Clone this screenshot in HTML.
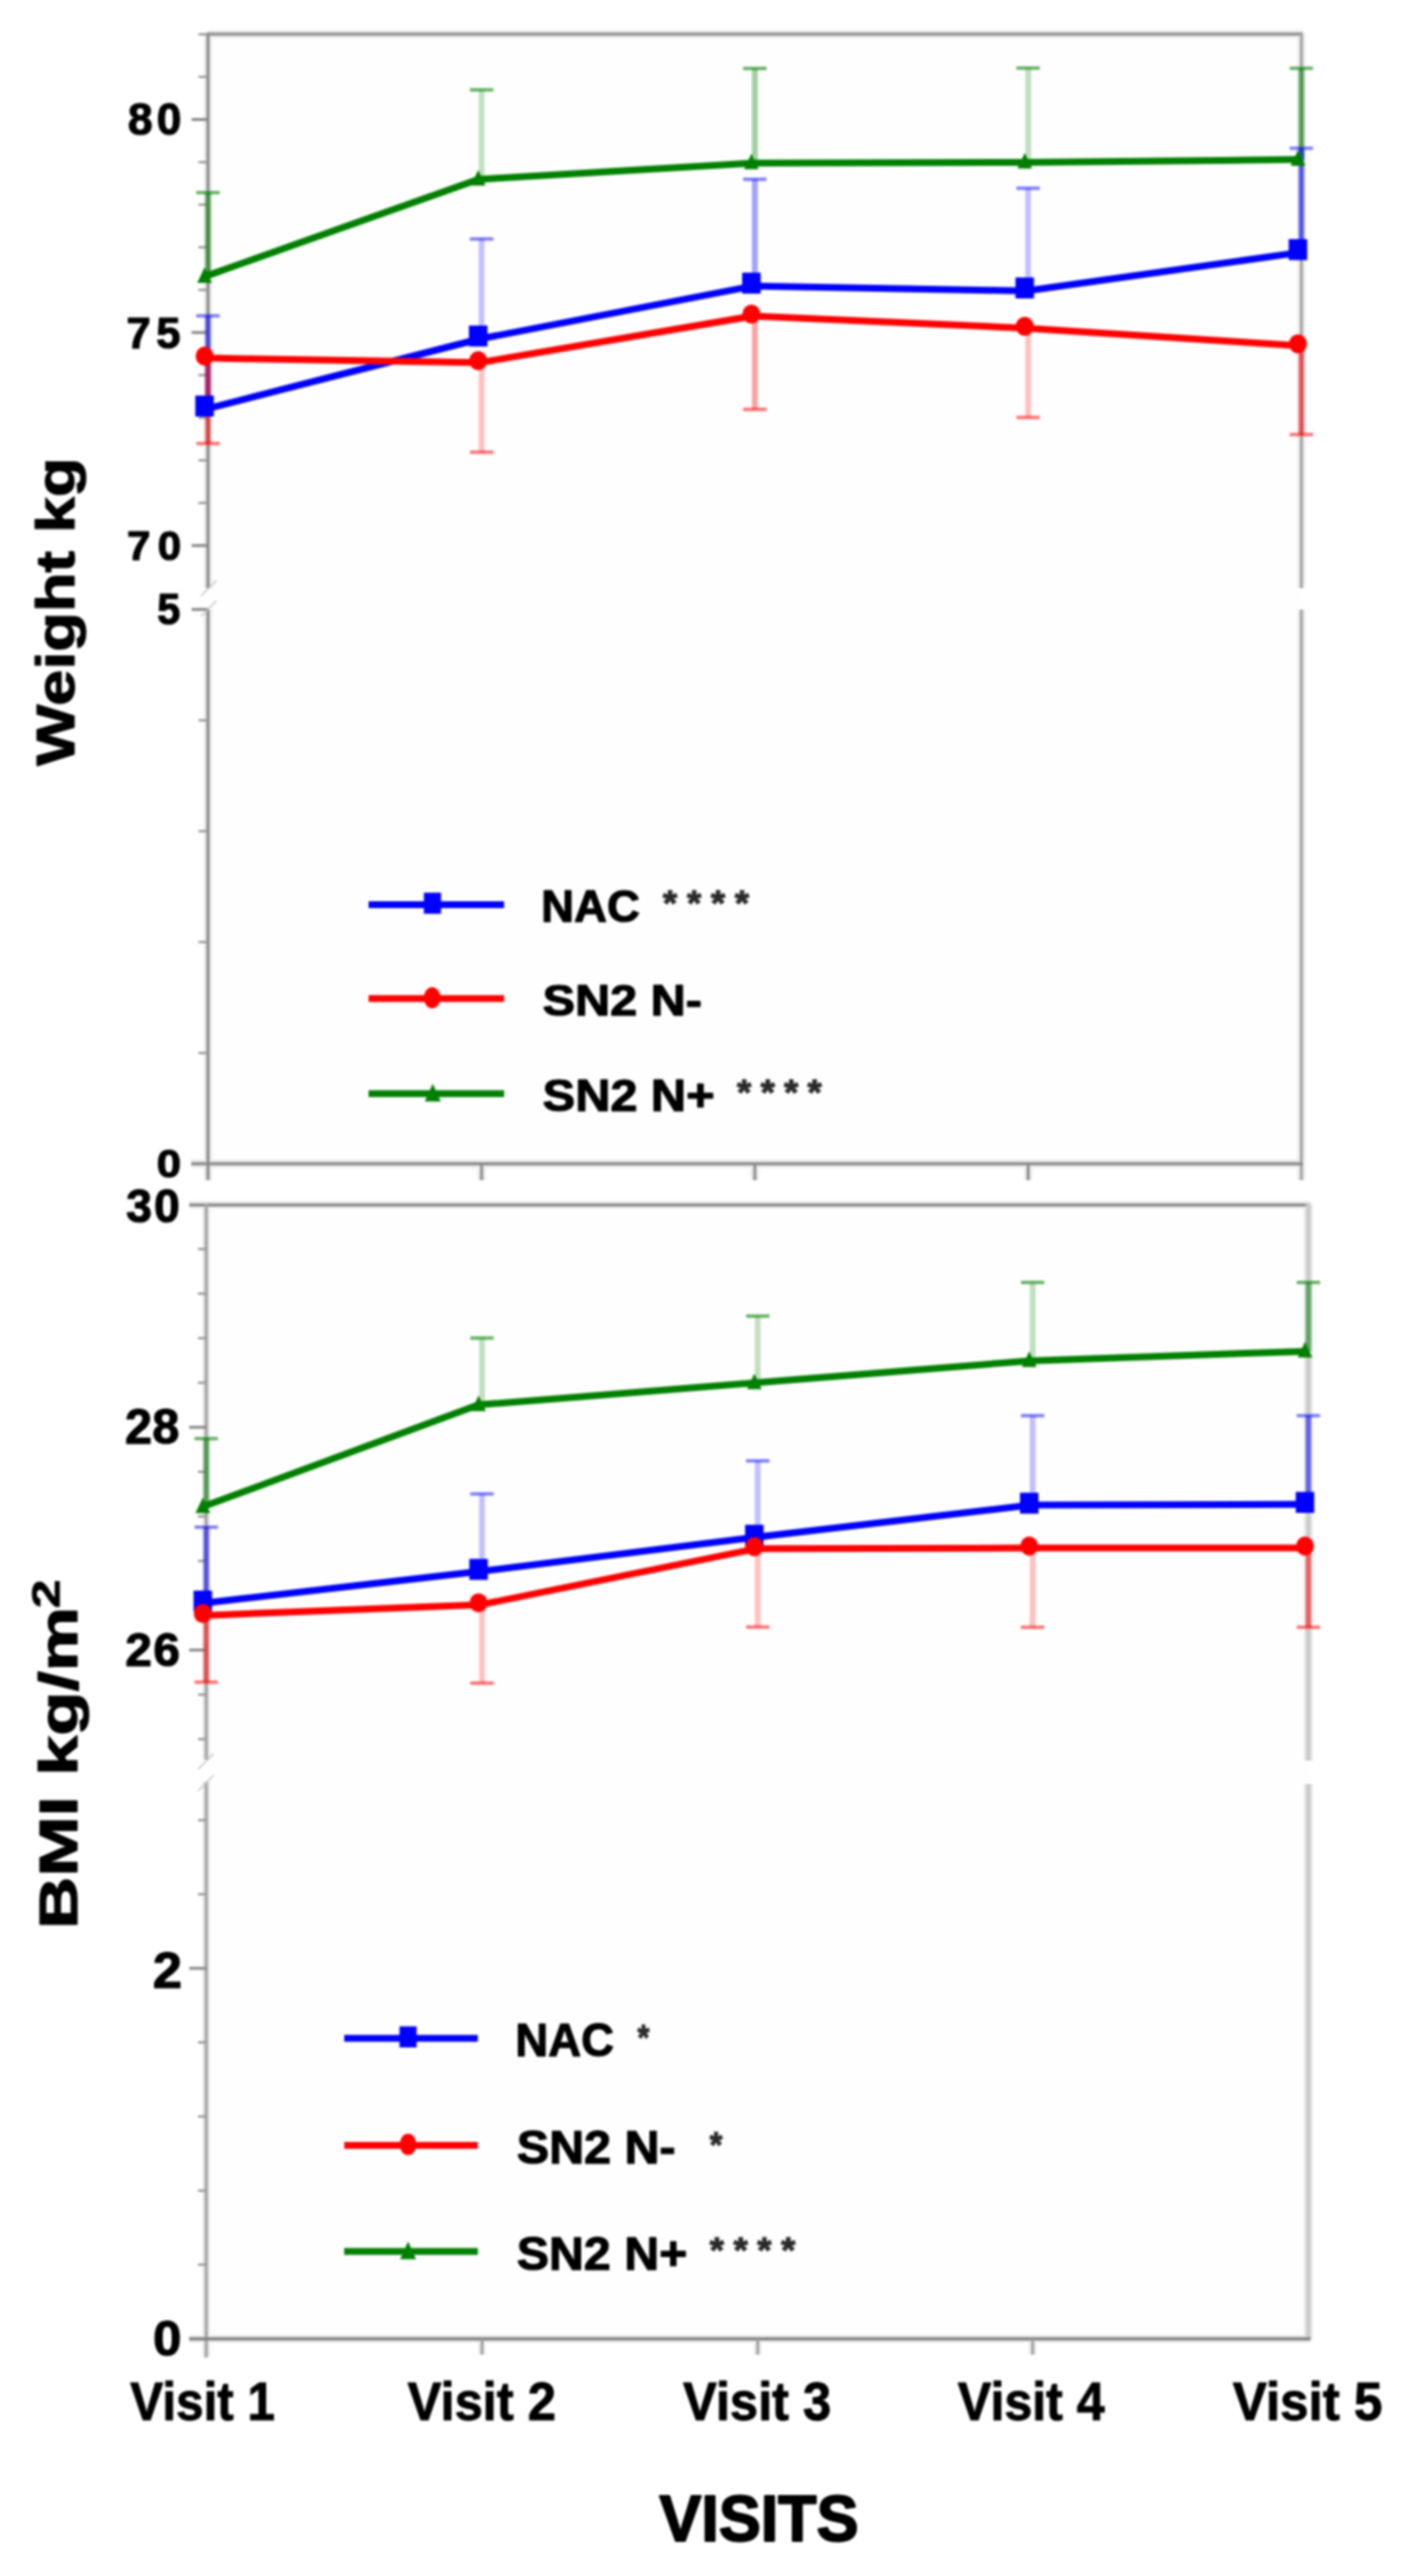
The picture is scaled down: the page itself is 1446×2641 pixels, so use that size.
<!DOCTYPE html>
<html><head><meta charset="utf-8"><title>Weight and BMI by visit</title>
<style>
html,body{margin:0;padding:0;background:#fff;}
body{width:1446px;height:2641px;overflow:hidden;}
svg{display:block;filter:blur(1px);}
text{font-family:"Liberation Sans",Arial,sans-serif;font-weight:bold;}
</style></head><body>
<svg width="1446" height="2641" viewBox="0 0 1446 2641">
<rect width="1446" height="2641" fill="#fff"/>
<rect x="213.3" y="35" width="1121.3" height="1158.2" fill="#fefefe"/>
<line x1="213.30" y1="35.00" x2="1336.10" y2="35.00" stroke="#eeeeee" stroke-width="9.2"/>
<line x1="213.30" y1="33.50" x2="213.30" y2="603.00" stroke="#eeeeee" stroke-width="9.2"/>
<line x1="213.30" y1="625.00" x2="213.30" y2="1210.00" stroke="#eeeeee" stroke-width="9.2"/>
<line x1="1334.60" y1="33.50" x2="1334.60" y2="603.00" stroke="#eeeeee" stroke-width="9"/>
<line x1="1334.60" y1="625.00" x2="1334.60" y2="1210.00" stroke="#eeeeee" stroke-width="9"/>
<line x1="196.00" y1="1193.20" x2="1336.10" y2="1193.20" stroke="#eeeeee" stroke-width="9.2"/>
<line x1="493.90" y1="1193.20" x2="493.90" y2="1210.00" stroke="#eeeeee" stroke-width="9"/>
<line x1="774.10" y1="1193.20" x2="774.10" y2="1210.00" stroke="#eeeeee" stroke-width="9"/>
<line x1="1054.40" y1="1193.20" x2="1054.40" y2="1210.00" stroke="#eeeeee" stroke-width="9"/>
<line x1="213.30" y1="35.00" x2="1336.10" y2="35.00" stroke="#8a8a8a" stroke-width="3.2"/>
<line x1="213.30" y1="33.50" x2="213.30" y2="603.00" stroke="#8a8a8a" stroke-width="3.2"/>
<line x1="213.30" y1="625.00" x2="213.30" y2="1210.00" stroke="#8a8a8a" stroke-width="3.2"/>
<line x1="1334.60" y1="33.50" x2="1334.60" y2="603.00" stroke="#a2a2a2" stroke-width="3"/>
<line x1="1334.60" y1="625.00" x2="1334.60" y2="1210.00" stroke="#a2a2a2" stroke-width="3"/>
<line x1="196.00" y1="1193.20" x2="1336.10" y2="1193.20" stroke="#8a8a8a" stroke-width="3.2"/>
<line x1="493.90" y1="1193.20" x2="493.90" y2="1210.00" stroke="#8a8a8a" stroke-width="3"/>
<line x1="774.10" y1="1193.20" x2="774.10" y2="1210.00" stroke="#8a8a8a" stroke-width="3"/>
<line x1="1054.40" y1="1193.20" x2="1054.40" y2="1210.00" stroke="#8a8a8a" stroke-width="3"/>
<line x1="196.50" y1="559.30" x2="213.30" y2="559.30" stroke="#8a8a8a" stroke-width="3"/>
<line x1="196.50" y1="340.90" x2="213.30" y2="340.90" stroke="#8a8a8a" stroke-width="3"/>
<line x1="196.50" y1="122.50" x2="213.30" y2="122.50" stroke="#8a8a8a" stroke-width="3"/>
<line x1="203.50" y1="515.62" x2="213.30" y2="515.62" stroke="#9a9a9a" stroke-width="2.4"/>
<line x1="203.50" y1="471.94" x2="213.30" y2="471.94" stroke="#9a9a9a" stroke-width="2.4"/>
<line x1="203.50" y1="428.26" x2="213.30" y2="428.26" stroke="#9a9a9a" stroke-width="2.4"/>
<line x1="203.50" y1="384.58" x2="213.30" y2="384.58" stroke="#9a9a9a" stroke-width="2.4"/>
<line x1="203.50" y1="297.22" x2="213.30" y2="297.22" stroke="#9a9a9a" stroke-width="2.4"/>
<line x1="203.50" y1="253.54" x2="213.30" y2="253.54" stroke="#9a9a9a" stroke-width="2.4"/>
<line x1="203.50" y1="209.86" x2="213.30" y2="209.86" stroke="#9a9a9a" stroke-width="2.4"/>
<line x1="203.50" y1="166.18" x2="213.30" y2="166.18" stroke="#9a9a9a" stroke-width="2.4"/>
<line x1="203.50" y1="78.82" x2="213.30" y2="78.82" stroke="#9a9a9a" stroke-width="2.4"/>
<line x1="203.50" y1="35.14" x2="213.30" y2="35.14" stroke="#9a9a9a" stroke-width="2.4"/>
<line x1="196.50" y1="624.80" x2="213.30" y2="624.80" stroke="#8a8a8a" stroke-width="3"/>
<line x1="203.50" y1="1079.52" x2="213.30" y2="1079.52" stroke="#9a9a9a" stroke-width="2.4"/>
<line x1="203.50" y1="965.84" x2="213.30" y2="965.84" stroke="#9a9a9a" stroke-width="2.4"/>
<line x1="203.50" y1="852.16" x2="213.30" y2="852.16" stroke="#9a9a9a" stroke-width="2.4"/>
<line x1="203.50" y1="738.48" x2="213.30" y2="738.48" stroke="#9a9a9a" stroke-width="2.4"/>
<line x1="206.00" y1="611.00" x2="222.00" y2="595.00" stroke="#c8c8c8" stroke-width="1.6"/>
<line x1="206.00" y1="632.00" x2="222.00" y2="616.00" stroke="#c8c8c8" stroke-width="1.6"/>
<line x1="213.30" y1="283.60" x2="213.30" y2="197.50" stroke="rgba(0,128,0,0.5)" stroke-width="6"/>
<line x1="201.30" y1="197.50" x2="225.30" y2="197.50" stroke="rgba(0,128,0,0.6)" stroke-width="3.5"/>
<line x1="493.90" y1="183.90" x2="493.90" y2="92.10" stroke="rgba(0,128,0,0.24)" stroke-width="6"/>
<line x1="481.90" y1="92.10" x2="505.90" y2="92.10" stroke="rgba(0,128,0,0.6)" stroke-width="3.5"/>
<line x1="774.10" y1="167.20" x2="774.10" y2="70.20" stroke="rgba(0,128,0,0.36)" stroke-width="6"/>
<line x1="762.10" y1="70.20" x2="786.10" y2="70.20" stroke="rgba(0,128,0,0.6)" stroke-width="3.5"/>
<line x1="1054.40" y1="166.40" x2="1054.40" y2="69.80" stroke="rgba(0,128,0,0.24)" stroke-width="6"/>
<line x1="1042.40" y1="69.80" x2="1066.40" y2="69.80" stroke="rgba(0,128,0,0.6)" stroke-width="3.5"/>
<line x1="1334.60" y1="163.60" x2="1334.60" y2="70.00" stroke="rgba(0,128,0,0.5)" stroke-width="6"/>
<line x1="1322.60" y1="70.00" x2="1346.60" y2="70.00" stroke="rgba(0,128,0,0.6)" stroke-width="3.5"/>
<line x1="213.30" y1="416.30" x2="213.30" y2="323.80" stroke="rgba(0,0,255,0.5)" stroke-width="6"/>
<line x1="201.30" y1="323.80" x2="225.30" y2="323.80" stroke="rgba(0,0,255,0.5)" stroke-width="3.5"/>
<line x1="493.90" y1="344.50" x2="493.90" y2="245.00" stroke="rgba(0,0,255,0.24)" stroke-width="6"/>
<line x1="481.90" y1="245.00" x2="505.90" y2="245.00" stroke="rgba(0,0,255,0.5)" stroke-width="3.5"/>
<line x1="774.10" y1="290.30" x2="774.10" y2="183.80" stroke="rgba(0,0,255,0.36)" stroke-width="6"/>
<line x1="762.10" y1="183.80" x2="786.10" y2="183.80" stroke="rgba(0,0,255,0.5)" stroke-width="3.5"/>
<line x1="1054.40" y1="295.20" x2="1054.40" y2="193.00" stroke="rgba(0,0,255,0.24)" stroke-width="6"/>
<line x1="1042.40" y1="193.00" x2="1066.40" y2="193.00" stroke="rgba(0,0,255,0.5)" stroke-width="3.5"/>
<line x1="1334.60" y1="255.90" x2="1334.60" y2="152.00" stroke="rgba(0,0,255,0.5)" stroke-width="6"/>
<line x1="1322.60" y1="152.00" x2="1346.60" y2="152.00" stroke="rgba(0,0,255,0.5)" stroke-width="3.5"/>
<line x1="213.30" y1="365.10" x2="213.30" y2="454.70" stroke="rgba(255,0,0,0.5)" stroke-width="6"/>
<line x1="201.30" y1="454.70" x2="225.30" y2="454.70" stroke="rgba(255,0,0,0.55)" stroke-width="3.5"/>
<line x1="493.90" y1="369.80" x2="493.90" y2="463.60" stroke="rgba(255,0,0,0.24)" stroke-width="6"/>
<line x1="481.90" y1="463.60" x2="505.90" y2="463.60" stroke="rgba(255,0,0,0.55)" stroke-width="3.5"/>
<line x1="774.10" y1="322.00" x2="774.10" y2="419.70" stroke="rgba(255,0,0,0.36)" stroke-width="6"/>
<line x1="762.10" y1="419.70" x2="786.10" y2="419.70" stroke="rgba(255,0,0,0.55)" stroke-width="3.5"/>
<line x1="1054.40" y1="334.50" x2="1054.40" y2="428.00" stroke="rgba(255,0,0,0.24)" stroke-width="6"/>
<line x1="1042.40" y1="428.00" x2="1066.40" y2="428.00" stroke="rgba(255,0,0,0.55)" stroke-width="3.5"/>
<line x1="1334.60" y1="352.50" x2="1334.60" y2="445.50" stroke="rgba(255,0,0,0.5)" stroke-width="6"/>
<line x1="1322.60" y1="445.50" x2="1346.60" y2="445.50" stroke="rgba(255,0,0,0.55)" stroke-width="3.5"/>
<polyline points="209.80,283.60 490.40,183.90 770.60,167.20 1050.90,166.40 1331.10,163.60" fill="none" stroke="#008000" stroke-width="7" stroke-linejoin="miter"/>
<polyline points="211.30,419.30 491.90,347.50 772.10,293.30 1052.40,298.20 1332.60,258.90" fill="none" stroke="#0000ff" stroke-width="7" stroke-linejoin="miter"/>
<polyline points="211.30,367.10 491.90,371.80 772.10,324.00 1052.40,336.50 1332.60,354.50" fill="none" stroke="#ff0000" stroke-width="7" stroke-linejoin="miter"/>
<polygon points="209.80,274.00 217.30,290.00 202.30,290.00" fill="#008000"/>
<polygon points="490.40,174.30 497.90,190.30 482.90,190.30" fill="#008000"/>
<polygon points="770.60,157.60 778.10,173.60 763.10,173.60" fill="#008000"/>
<polygon points="1050.90,156.80 1058.40,172.80 1043.40,172.80" fill="#008000"/>
<polygon points="1331.10,154.00 1338.60,170.00 1323.60,170.00" fill="#008000"/>
<rect x="200.30" y="405.55" width="19" height="21.5" fill="#0000ff"/>
<rect x="480.90" y="333.75" width="19" height="21.5" fill="#0000ff"/>
<rect x="761.10" y="279.55" width="19" height="21.5" fill="#0000ff"/>
<rect x="1041.40" y="284.45" width="19" height="21.5" fill="#0000ff"/>
<rect x="1321.60" y="245.15" width="19" height="21.5" fill="#0000ff"/>
<ellipse cx="209.80" cy="365.10" rx="9.2" ry="9.8" fill="#ff0000"/>
<ellipse cx="490.40" cy="369.80" rx="9.2" ry="9.8" fill="#ff0000"/>
<ellipse cx="770.60" cy="322.00" rx="9.2" ry="9.8" fill="#ff0000"/>
<ellipse cx="1050.90" cy="334.50" rx="9.2" ry="9.8" fill="#ff0000"/>
<ellipse cx="1331.10" cy="352.50" rx="9.2" ry="9.8" fill="#ff0000"/>
<text transform="translate(131.24,138.35) scale(1.0000,1)" font-size="45.35" letter-spacing="4.33" fill="#000" stroke="#000" stroke-width="1.2" stroke-linejoin="round">80</text>
<text transform="translate(129.79,356.65) scale(1.0000,1)" font-size="44.57" letter-spacing="5.65" fill="#000" stroke="#000" stroke-width="1.2" stroke-linejoin="round">75</text>
<text transform="translate(130.15,574.17) scale(1.0000,1)" font-size="43.24" letter-spacing="7.48" fill="#000" stroke="#000" stroke-width="1.2" stroke-linejoin="round">70</text>
<text transform="translate(161.32,639.96) scale(0.9682,1)" font-size="44.00" fill="#000" stroke="#000" stroke-width="1.2" stroke-linejoin="round">5</text>
<text transform="translate(160.81,1206.79) scale(1.0866,1)" font-size="41.27" fill="#000" stroke="#000" stroke-width="1.2" stroke-linejoin="round">0</text>
<line x1="378.00" y1="927.50" x2="517.00" y2="927.50" stroke="#0000ff" stroke-width="7"/>
<rect x="434.70" y="915.20" width="17.6" height="21.6" fill="#0000ff"/>
<line x1="378.00" y1="1023.80" x2="517.00" y2="1023.80" stroke="#ff0000" stroke-width="7"/>
<ellipse cx="443.20" cy="1023.00" rx="8.6" ry="11" fill="#ff0000"/>
<line x1="378.00" y1="1121.30" x2="517.00" y2="1121.30" stroke="#008000" stroke-width="7"/>
<polygon points="443.80,1111.10 452.00,1129.30 435.60,1129.30" fill="#008000"/>
<text transform="translate(555.07,944.94) scale(1.0098,1)" font-size="46.20" fill="#000" stroke="#000" stroke-width="1.2" stroke-linejoin="round">NAC</text>
<text transform="translate(556.61,1040.95) scale(1.1115,1)" font-size="44.79" fill="#000" stroke="#000" stroke-width="1.2" stroke-linejoin="round">SN2 N-</text>
<text transform="translate(556.60,1138.94) scale(1.0811,1)" font-size="46.20" fill="#000" stroke="#000" stroke-width="1.2" stroke-linejoin="round">SN2 N+</text>
<text transform="translate(679.81,939.11) scale(1.0000,1)" font-size="37.84" letter-spacing="9.85" fill="#2a2a2a" stroke="#2a2a2a" stroke-width="1.0" stroke-linejoin="round">****</text>
<text transform="translate(755.81,1133.11) scale(1.0000,1)" font-size="37.84" letter-spacing="9.35" fill="#2a2a2a" stroke="#2a2a2a" stroke-width="1.0" stroke-linejoin="round">****</text>
<rect x="211.5" y="1235.3" width="1130.3" height="1162.5000000000002" fill="#fefefe"/>
<line x1="194.00" y1="1235.30" x2="1343.80" y2="1235.30" stroke="#eeeeee" stroke-width="8.2"/>
<line x1="211.50" y1="1234.00" x2="211.50" y2="1804.00" stroke="#eeeeee" stroke-width="8.4"/>
<line x1="211.50" y1="1827.00" x2="211.50" y2="2417.00" stroke="#eeeeee" stroke-width="8.4"/>
<line x1="1341.80" y1="1234.00" x2="1341.80" y2="1805.00" stroke="#eeeeee" stroke-width="10"/>
<line x1="1341.80" y1="1829.00" x2="1341.80" y2="2399.00" stroke="#eeeeee" stroke-width="10"/>
<line x1="194.00" y1="2397.80" x2="1343.80" y2="2397.80" stroke="#eeeeee" stroke-width="8.2"/>
<line x1="494.30" y1="2397.80" x2="494.30" y2="2414.00" stroke="#eeeeee" stroke-width="8"/>
<line x1="777.10" y1="2397.80" x2="777.10" y2="2414.00" stroke="#eeeeee" stroke-width="8"/>
<line x1="1059.00" y1="2397.80" x2="1059.00" y2="2414.00" stroke="#eeeeee" stroke-width="8"/>
<line x1="194.00" y1="1235.30" x2="1343.80" y2="1235.30" stroke="#8c8c8c" stroke-width="3.2"/>
<line x1="211.50" y1="1234.00" x2="211.50" y2="1804.00" stroke="#a5a5a5" stroke-width="3.4"/>
<line x1="211.50" y1="1827.00" x2="211.50" y2="2417.00" stroke="#a5a5a5" stroke-width="3.4"/>
<line x1="1341.80" y1="1234.00" x2="1341.80" y2="1805.00" stroke="#cbcbcb" stroke-width="5"/>
<line x1="1341.80" y1="1829.00" x2="1341.80" y2="2399.00" stroke="#cbcbcb" stroke-width="5"/>
<line x1="194.00" y1="2397.80" x2="1343.80" y2="2397.80" stroke="#808080" stroke-width="3.2"/>
<line x1="494.30" y1="2397.80" x2="494.30" y2="2414.00" stroke="#a0a0a0" stroke-width="3"/>
<line x1="777.10" y1="2397.80" x2="777.10" y2="2414.00" stroke="#a0a0a0" stroke-width="3"/>
<line x1="1059.00" y1="2397.80" x2="1059.00" y2="2414.00" stroke="#a0a0a0" stroke-width="3"/>
<line x1="194.00" y1="1691.70" x2="211.50" y2="1691.70" stroke="#8c8c8c" stroke-width="3"/>
<line x1="194.00" y1="1463.30" x2="211.50" y2="1463.30" stroke="#8c8c8c" stroke-width="3"/>
<line x1="203.00" y1="1783.06" x2="211.50" y2="1783.06" stroke="#9a9a9a" stroke-width="2.4"/>
<line x1="203.00" y1="1737.38" x2="211.50" y2="1737.38" stroke="#9a9a9a" stroke-width="2.4"/>
<line x1="203.00" y1="1646.02" x2="211.50" y2="1646.02" stroke="#9a9a9a" stroke-width="2.4"/>
<line x1="203.00" y1="1600.34" x2="211.50" y2="1600.34" stroke="#9a9a9a" stroke-width="2.4"/>
<line x1="203.00" y1="1554.66" x2="211.50" y2="1554.66" stroke="#9a9a9a" stroke-width="2.4"/>
<line x1="203.00" y1="1508.98" x2="211.50" y2="1508.98" stroke="#9a9a9a" stroke-width="2.4"/>
<line x1="203.00" y1="1417.62" x2="211.50" y2="1417.62" stroke="#9a9a9a" stroke-width="2.4"/>
<line x1="203.00" y1="1371.94" x2="211.50" y2="1371.94" stroke="#9a9a9a" stroke-width="2.4"/>
<line x1="203.00" y1="1326.26" x2="211.50" y2="1326.26" stroke="#9a9a9a" stroke-width="2.4"/>
<line x1="203.00" y1="1280.58" x2="211.50" y2="1280.58" stroke="#9a9a9a" stroke-width="2.4"/>
<line x1="194.00" y1="2018.00" x2="211.50" y2="2018.00" stroke="#8c8c8c" stroke-width="3"/>
<line x1="203.00" y1="2321.84" x2="211.50" y2="2321.84" stroke="#9a9a9a" stroke-width="2.4"/>
<line x1="203.00" y1="2245.88" x2="211.50" y2="2245.88" stroke="#9a9a9a" stroke-width="2.4"/>
<line x1="203.00" y1="2169.92" x2="211.50" y2="2169.92" stroke="#9a9a9a" stroke-width="2.4"/>
<line x1="203.00" y1="2093.96" x2="211.50" y2="2093.96" stroke="#9a9a9a" stroke-width="2.4"/>
<line x1="203.00" y1="1942.04" x2="211.50" y2="1942.04" stroke="#9a9a9a" stroke-width="2.4"/>
<line x1="203.00" y1="1866.08" x2="211.50" y2="1866.08" stroke="#9a9a9a" stroke-width="2.4"/>
<line x1="203.00" y1="1814.00" x2="219.00" y2="1798.00" stroke="#c8c8c8" stroke-width="1.6"/>
<line x1="203.00" y1="1836.00" x2="219.00" y2="1820.00" stroke="#c8c8c8" stroke-width="1.6"/>
<line x1="211.50" y1="1544.80" x2="211.50" y2="1474.90" stroke="rgba(0,128,0,0.5)" stroke-width="6"/>
<line x1="199.50" y1="1474.90" x2="223.50" y2="1474.90" stroke="rgba(0,128,0,0.6)" stroke-width="3.5"/>
<line x1="494.30" y1="1440.30" x2="494.30" y2="1371.80" stroke="rgba(0,128,0,0.24)" stroke-width="6"/>
<line x1="482.30" y1="1371.80" x2="506.30" y2="1371.80" stroke="rgba(0,128,0,0.6)" stroke-width="3.5"/>
<line x1="777.10" y1="1417.80" x2="777.10" y2="1349.30" stroke="rgba(0,128,0,0.24)" stroke-width="6"/>
<line x1="765.10" y1="1349.30" x2="789.10" y2="1349.30" stroke="rgba(0,128,0,0.6)" stroke-width="3.5"/>
<line x1="1059.00" y1="1395.20" x2="1059.00" y2="1314.80" stroke="rgba(0,128,0,0.24)" stroke-width="6"/>
<line x1="1047.00" y1="1314.80" x2="1071.00" y2="1314.80" stroke="rgba(0,128,0,0.6)" stroke-width="3.5"/>
<line x1="1341.80" y1="1385.40" x2="1341.80" y2="1314.80" stroke="rgba(0,128,0,0.5)" stroke-width="6"/>
<line x1="1329.80" y1="1314.80" x2="1353.80" y2="1314.80" stroke="rgba(0,128,0,0.6)" stroke-width="3.5"/>
<line x1="211.50" y1="1641.50" x2="211.50" y2="1565.70" stroke="rgba(0,0,255,0.5)" stroke-width="6"/>
<line x1="199.50" y1="1565.70" x2="223.50" y2="1565.70" stroke="rgba(0,0,255,0.5)" stroke-width="3.5"/>
<line x1="494.30" y1="1609.00" x2="494.30" y2="1531.60" stroke="rgba(0,0,255,0.24)" stroke-width="6"/>
<line x1="482.30" y1="1531.60" x2="506.30" y2="1531.60" stroke="rgba(0,0,255,0.5)" stroke-width="3.5"/>
<line x1="777.10" y1="1574.00" x2="777.10" y2="1497.70" stroke="rgba(0,0,255,0.24)" stroke-width="6"/>
<line x1="765.10" y1="1497.70" x2="789.10" y2="1497.70" stroke="rgba(0,0,255,0.5)" stroke-width="3.5"/>
<line x1="1059.00" y1="1541.10" x2="1059.00" y2="1451.40" stroke="rgba(0,0,255,0.24)" stroke-width="6"/>
<line x1="1047.00" y1="1451.40" x2="1071.00" y2="1451.40" stroke="rgba(0,0,255,0.5)" stroke-width="3.5"/>
<line x1="1341.80" y1="1540.30" x2="1341.80" y2="1451.40" stroke="rgba(0,0,255,0.5)" stroke-width="6"/>
<line x1="1329.80" y1="1451.40" x2="1353.80" y2="1451.40" stroke="rgba(0,0,255,0.5)" stroke-width="3.5"/>
<line x1="211.50" y1="1654.20" x2="211.50" y2="1724.60" stroke="rgba(255,0,0,0.5)" stroke-width="6"/>
<line x1="199.50" y1="1724.60" x2="223.50" y2="1724.60" stroke="rgba(255,0,0,0.55)" stroke-width="3.5"/>
<line x1="494.30" y1="1643.30" x2="494.30" y2="1725.60" stroke="rgba(255,0,0,0.24)" stroke-width="6"/>
<line x1="482.30" y1="1725.60" x2="506.30" y2="1725.60" stroke="rgba(255,0,0,0.55)" stroke-width="3.5"/>
<line x1="777.10" y1="1585.80" x2="777.10" y2="1668.10" stroke="rgba(255,0,0,0.24)" stroke-width="6"/>
<line x1="765.10" y1="1668.10" x2="789.10" y2="1668.10" stroke="rgba(255,0,0,0.55)" stroke-width="3.5"/>
<line x1="1059.00" y1="1585.10" x2="1059.00" y2="1668.30" stroke="rgba(255,0,0,0.24)" stroke-width="6"/>
<line x1="1047.00" y1="1668.30" x2="1071.00" y2="1668.30" stroke="rgba(255,0,0,0.55)" stroke-width="3.5"/>
<line x1="1341.80" y1="1585.10" x2="1341.80" y2="1668.30" stroke="rgba(255,0,0,0.5)" stroke-width="6"/>
<line x1="1329.80" y1="1668.30" x2="1353.80" y2="1668.30" stroke="rgba(255,0,0,0.55)" stroke-width="3.5"/>
<polyline points="208.00,1544.80 490.80,1440.30 773.60,1417.80 1055.50,1395.20 1338.30,1385.40" fill="none" stroke="#008000" stroke-width="7" stroke-linejoin="miter"/>
<polyline points="209.50,1643.50 492.30,1611.00 775.10,1576.00 1057.00,1543.10 1339.80,1542.30" fill="none" stroke="#0000ff" stroke-width="7" stroke-linejoin="miter"/>
<polyline points="209.50,1656.20 492.30,1645.30 775.10,1587.80 1057.00,1587.10 1339.80,1587.10" fill="none" stroke="#ff0000" stroke-width="7" stroke-linejoin="miter"/>
<polygon points="208.00,1535.20 215.50,1551.20 200.50,1551.20" fill="#008000"/>
<polygon points="490.80,1430.70 498.30,1446.70 483.30,1446.70" fill="#008000"/>
<polygon points="773.60,1408.20 781.10,1424.20 766.10,1424.20" fill="#008000"/>
<polygon points="1055.50,1385.60 1063.00,1401.60 1048.00,1401.60" fill="#008000"/>
<polygon points="1338.30,1375.80 1345.80,1391.80 1330.80,1391.80" fill="#008000"/>
<rect x="198.50" y="1630.75" width="19" height="21.5" fill="#0000ff"/>
<rect x="481.30" y="1598.25" width="19" height="21.5" fill="#0000ff"/>
<rect x="764.10" y="1563.25" width="19" height="21.5" fill="#0000ff"/>
<rect x="1046.00" y="1530.35" width="19" height="21.5" fill="#0000ff"/>
<rect x="1328.80" y="1529.55" width="19" height="21.5" fill="#0000ff"/>
<ellipse cx="208.00" cy="1654.20" rx="9.2" ry="9.8" fill="#ff0000"/>
<ellipse cx="490.80" cy="1643.30" rx="9.2" ry="9.8" fill="#ff0000"/>
<ellipse cx="773.60" cy="1585.80" rx="9.2" ry="9.8" fill="#ff0000"/>
<ellipse cx="1055.50" cy="1585.10" rx="9.2" ry="9.8" fill="#ff0000"/>
<ellipse cx="1338.30" cy="1585.10" rx="9.2" ry="9.8" fill="#ff0000"/>
<text transform="translate(129.42,1252.53) scale(1.0000,1)" font-size="47.32" letter-spacing="2.35" fill="#000" stroke="#000" stroke-width="1.2" stroke-linejoin="round">30</text>
<text transform="translate(128.36,1480.40) scale(1.0000,1)" font-size="49.72" letter-spacing="0.34" fill="#000" stroke="#000" stroke-width="1.2" stroke-linejoin="round">28</text>
<text transform="translate(128.38,1708.41) scale(1.0000,1)" font-size="49.01" letter-spacing="1.63" fill="#000" stroke="#000" stroke-width="1.2" stroke-linejoin="round">26</text>
<text transform="translate(156.72,2037.90) scale(1.0510,1)" font-size="51.14" fill="#000" stroke="#000" stroke-width="1.2" stroke-linejoin="round">2</text>
<text transform="translate(157.01,2415.40) scale(1.0355,1)" font-size="50.42" fill="#000" stroke="#000" stroke-width="1.2" stroke-linejoin="round">0</text>
<line x1="353.00" y1="2089.80" x2="490.00" y2="2089.80" stroke="#0000ff" stroke-width="7"/>
<rect x="409.70" y="2077.50" width="17.6" height="21.6" fill="#0000ff"/>
<line x1="353.00" y1="2199.40" x2="490.00" y2="2199.40" stroke="#ff0000" stroke-width="7"/>
<ellipse cx="418.50" cy="2198.60" rx="8.6" ry="11" fill="#ff0000"/>
<line x1="353.00" y1="2308.20" x2="490.00" y2="2308.20" stroke="#008000" stroke-width="7"/>
<polygon points="418.50,2298.00 426.70,2316.20 410.30,2316.20" fill="#008000"/>
<text transform="translate(528.57,2108.11) scale(0.9601,1)" font-size="48.59" fill="#000" stroke="#000" stroke-width="1.2" stroke-linejoin="round">NAC</text>
<text transform="translate(530.11,2217.91) scale(1.0213,1)" font-size="48.59" fill="#000" stroke="#000" stroke-width="1.2" stroke-linejoin="round">SN2 N-</text>
<text transform="translate(530.11,2326.91) scale(1.0101,1)" font-size="49.01" fill="#000" stroke="#000" stroke-width="1.2" stroke-linejoin="round">SN2 N+</text>
<text transform="translate(653.84,2101.61) scale(0.8346,1)" font-size="37.84" fill="#2a2a2a" stroke="#2a2a2a" stroke-width="1.0" stroke-linejoin="round">*</text>
<text transform="translate(727.83,2212.11) scale(0.8902,1)" font-size="37.84" fill="#2a2a2a" stroke="#2a2a2a" stroke-width="1.0" stroke-linejoin="round">*</text>
<text transform="translate(727.81,2320.11) scale(1.0000,1)" font-size="37.84" letter-spacing="9.68" fill="#2a2a2a" stroke="#2a2a2a" stroke-width="1.0" stroke-linejoin="round">****</text>
<text transform="translate(133.49,2480.80) scale(0.9085,1)" font-size="55.80" fill="#000" stroke="#000" stroke-width="1.0" stroke-linejoin="round">Visit 1</text>
<text transform="translate(417.98,2480.80) scale(0.9319,1)" font-size="55.80" fill="#000" stroke="#000" stroke-width="1.0" stroke-linejoin="round">Visit 2</text>
<text transform="translate(700.48,2480.80) scale(0.9303,1)" font-size="55.80" fill="#000" stroke="#000" stroke-width="1.0" stroke-linejoin="round">Visit 3</text>
<text transform="translate(982.29,2480.80) scale(0.9220,1)" font-size="55.80" fill="#000" stroke="#000" stroke-width="1.0" stroke-linejoin="round">Visit 4</text>
<text transform="translate(1264.28,2480.80) scale(0.9395,1)" font-size="55.80" fill="#000" stroke="#000" stroke-width="1.0" stroke-linejoin="round">Visit 5</text>
<text transform="translate(676.36,2605.34) scale(0.9774,1)" font-size="65.92" fill="#000" stroke="#000" stroke-width="2.0" stroke-linejoin="round">VISITS</text>
<text transform="translate(76.00,784.90) rotate(-90) scale(1.1918,1)" font-size="55.72" fill="#000" stroke="#000" stroke-width="1.2" stroke-linejoin="round">Weight kg</text>
<text transform="translate(79.00,1977.73) rotate(-90) scale(1.3342,1)" font-size="55.72" fill="#000" stroke="#000" stroke-width="1.2" stroke-linejoin="round">BMI kg/m</text>
<text transform="translate(60.60,1648.74) rotate(-90) scale(1.2991,1)" font-size="40.57" fill="#000" stroke="#000" stroke-width="0.8" stroke-linejoin="round">2</text>
</svg>
</body></html>
